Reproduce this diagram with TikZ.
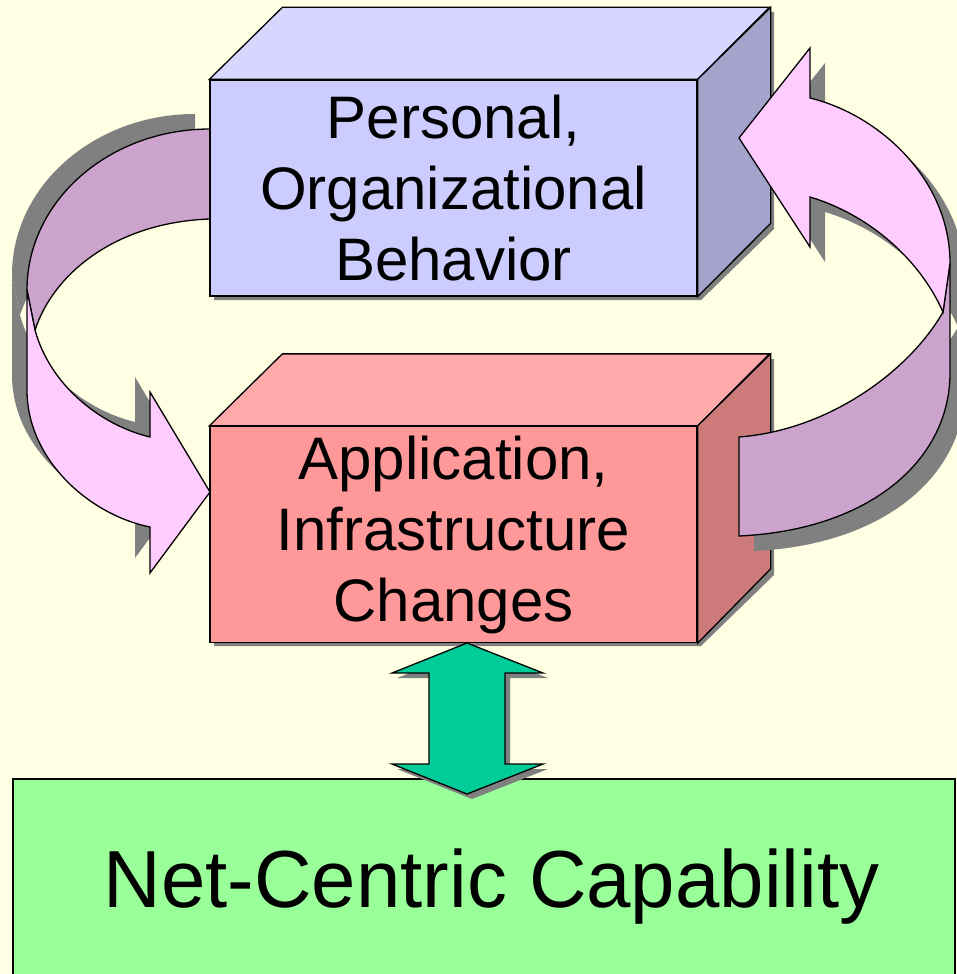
\documentclass[tikz,border=0pt]{standalone}
\usepackage{fontspec}
\setmainfont{Liberation Sans}
\definecolor{bg}{HTML}{FFFFE3}
\definecolor{bfront}{HTML}{CCCCFF}
\definecolor{btop}{HTML}{D6D6FF}
\definecolor{bside}{HTML}{A3A3CC}
\definecolor{rfront}{HTML}{FF9999}
\definecolor{rtop}{HTML}{FFAAAA}
\definecolor{rside}{HTML}{CC7A7A}
\definecolor{plight}{HTML}{FFCCFF}
\definecolor{pdark}{HTML}{CCA3CC}
\definecolor{gbox}{HTML}{99FF99}
\definecolor{garrow}{HTML}{00CC99}
\definecolor{shade}{HTML}{808080}
\begin{document}
\begin{tikzpicture}[x=1pt,y=-1pt,
  outline/.style={draw=black,line width=1.3pt,line join=miter},
  shadowfill/.style={fill=shade,draw=none},
  frontface/.style={outline,minimum width=487pt,minimum height=216pt,inner sep=0pt,align=center,
    font=\fontsize{60}{71}\selectfont},
]
\useasboundingbox[fill=bg] (0,0) rectangle (957,974);

% ---- left curved arrow (shadow then ribbon)
\begin{scope}[shift={(-15,-15)}]
  \fill[shadowfill] (210,129) .. controls (109,129) and (27,201) .. (27,290) -- (35,330) .. controls (55,270) and (120,222) .. (210,219) -- cycle;
  \fill[shadowfill] (27,290) -- (27,390) .. controls (27,460) and (90,515) .. (150,527) -- (150,573) -- (210,492) -- (150,392) -- (150,437) .. controls (100,425) and (50,385) .. (35,330) -- cycle;
\end{scope}
\filldraw[outline,fill=pdark] (210,129) .. controls (109,129) and (27,201) .. (27,290) -- (35,330) .. controls (55,270) and (120,222) .. (210,219) -- cycle;
\filldraw[outline,fill=plight] (27,290) -- (27,390) .. controls (27,460) and (90,515) .. (150,527) -- (150,573) -- (210,492) -- (150,392) -- (150,437) .. controls (100,425) and (50,385) .. (35,330) -- cycle;

% ---- top box
\fill[shadowfill] (214,84) -- (287,12) -- (774,12) -- (774,229) -- (701,300) -- (214,300) -- cycle;
\node[frontface,fill=bfront] (pob) at (453.5,188) {Personal,\\Organizational\\Behavior};
\filldraw[outline,fill=btop] (pob.north west) -- ++(73,-72) -- ++(487,0) -- (pob.north east) -- cycle;
\filldraw[outline,fill=bside] (pob.north east) -- ++(73,-72) -- ++(0,216) -- (pob.south east) -- cycle;

% ---- bottom box
\fill[shadowfill] (214,431) -- (287,359) -- (774,359) -- (774,575) -- (701,646) -- (214,646) -- cycle;
\node[frontface,fill=rfront] (aic) at (453.5,534.5) {Application,\\Infrastructure\\Changes};
\filldraw[outline,fill=rtop] (aic.north west) -- ++(73,-72) -- ++(487,0) -- (aic.north east) -- cycle;
\filldraw[outline,fill=rside] (aic.north east) -- ++(73,-72) -- ++(0,215) -- (aic.south east) -- cycle;

% ---- right curved arrow
\begin{scope}[shift={(15,15)}]
  \fill[shadowfill] (739,437) .. controls (830,430) and (910,370) .. (943,312) -- (950,263) -- (950,373) .. controls (950,460) and (870,530) .. (739,536) -- cycle;
  \fill[shadowfill] (950,263) .. controls (950,180) and (880,115) .. (810,98) -- (810,48) -- (739,138) -- (810,247) -- (810,197) .. controls (870,215) and (920,260) .. (943,312) -- cycle;
\end{scope}
\filldraw[outline,fill=pdark] (739,437) .. controls (830,430) and (910,370) .. (943,312) -- (950,263) -- (950,373) .. controls (950,460) and (870,530) .. (739,536) -- cycle;
\filldraw[outline,fill=plight] (950,263) .. controls (950,180) and (880,115) .. (810,98) -- (810,48) -- (739,138) -- (810,247) -- (810,197) .. controls (870,215) and (920,260) .. (943,312) -- cycle;

% ---- green box
\node[outline,fill=gbox,minimum width=942pt,minimum height=206pt,inner sep=0pt] (ncc) at (484,882) {};
\node[anchor=base,inner sep=0pt] (ncctext) at (491.5,907)
  {\scalebox{0.985}[1]{\fontsize{81}{95}\selectfont Net-Centric Capability}};

% ---- double arrow
\fill[shadowfill] (472,648) -- (548,678) -- (510,678) -- (510,769) -- (548,769) -- (472,799) -- (397,769) -- (434,769) -- (434,678) -- (397,678) -- cycle;
\filldraw[outline,fill=garrow] (467,643) -- (543,673) -- (505,673) -- (505,764) -- (543,764) -- (467,794) -- (392,764) -- (429,764) -- (429,673) -- (392,673) -- cycle;
\end{tikzpicture}
\end{document}
